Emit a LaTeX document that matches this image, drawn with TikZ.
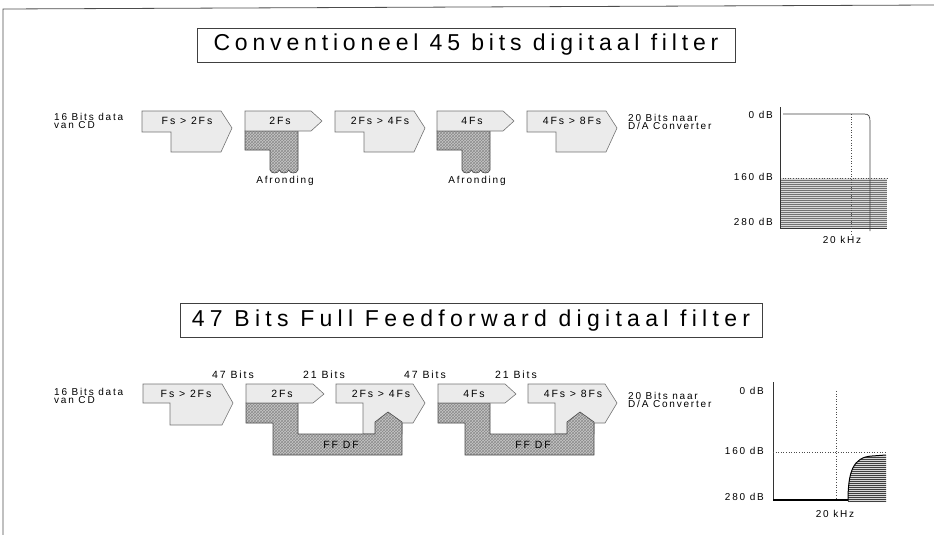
\documentclass[tikz,border=0pt]{standalone}
\usepackage{fontspec}
\setmainfont{Liberation Sans}
\newfontfamily\lblfont[LetterSpace=18]{Liberation Sans}
\newfontfamily\ttlfont[LetterSpace=21]{Liberation Sans}
\newfontfamily\ttlfontb[LetterSpace=23]{Liberation Sans}
\usetikzlibrary{patterns,positioning}

\begin{document}
\begin{tikzpicture}[x=1pt,y=-1pt,
    lbl/.style={font=\lblfont\fontsize{10}{8.5}\selectfont, inner sep=0pt, align=left},
    blk/.style={font=\lblfont\fontsize{10.5}{10}\selectfont, inner sep=0pt},
    ttl/.style={draw=black!75, line width=0.7pt, inner sep=0pt, minimum height=34pt},
    light/.style={draw=black!55, fill=black!8, line width=0.6pt},
    rough/.style={draw=black!70, line width=0.6pt, preaction={fill=black!22},
      pattern=crosshatch, pattern color=black!45},
    ax/.style={draw=black!80, line width=0.6pt},
    dotline/.style={black!70, dotted, line width=0.6pt}]
  \useasboundingbox (0,0) rectangle (934,535);
  % page edge
  \draw[black!70, line width=0.8pt] (3,535) -- (3,9) -- (934,5);

  % titles
  \node[ttl, minimum width=538pt, font=\ttlfont\fontsize{23}{26}\selectfont]
    (ttl_conv) at (466,45) {Conventioneel 45 bits digitaal filter};
  \node[ttl, minimum width=582pt, font=\ttlfontb\fontsize{23}{26}\selectfont]
    (ttl_ffw) at (471,320.5) {47 Bits Full Feedforward digitaal filter};

  % ---- conventional chain ----
  \node[lbl, anchor=west] (src_conv) at (54,121) {16 Bits data\\van CD};
  \node[lbl, anchor=west] (dst_conv) at (628,122) {20 Bits naar\\D/A Converter};
  \foreach \x/\t [count=\i] in {142/Fs > 2Fs, 335/2Fs > 4Fs, 527/4Fs > 8Fs} {
    \draw[light] (\x,111) -- ++(79,0) -- ++(11,17) -- ++(-11,24) -- ++(-50,0)
      -- ++(0,-20) -- ++(-29,0) -- cycle;
    \node[blk] (os_conv\i) at (\x+45,121) {\t};
  }
  \foreach \x/\t [count=\i] in {245/2Fs, 437/4Fs} {
    \draw[rough] (\x,131) -- ++(53,0) -- ++(0,39)
      .. controls (\x+52,174) and (\x+44.7,174) .. (\x+43.7,170)
      .. controls (\x+42.7,174) and (\x+35.3,174) .. (\x+34.3,170)
      .. controls (\x+33.3,174) and (\x+26,174) .. (\x+25,170)
      -- (\x+25,150) -- (\x,150) -- cycle;
    \draw[light] (\x,111) -- ++(66,0) -- ++(11,10) -- ++(-11,10) -- ++(-66,0) -- cycle;
    \node[blk] (rate_conv\i) at (\x+35,121) {\t};
    \node[lbl] (afr\i) at (\x+40,181) {Afronding};
  }

  % ---- feedforward chain ----
  \node[lbl, anchor=west] (src_ffw) at (54,396) {16 Bits data\\van CD};
  \node[lbl, anchor=west] (dst_ffw) at (628,400) {20 Bits naar\\D/A Converter};
  \draw[light] (143,384) -- ++(79,0) -- ++(11,19) -- ++(-11,22) -- ++(-52,0)
    -- ++(0,-22) -- ++(-27,0) -- cycle;
  \node[blk] (os_ffw0) at (186,394) {Fs > 2Fs};
  \foreach \x/\u/\v [count=\i] in {246/2Fs/2Fs > 4Fs, 438/4Fs/4Fs > 8Fs} {
    \draw[light] (\x+90,384) -- ++(77,0) -- ++(12,19) -- ++(-12,20) -- ++(-11,0)
      -- ++(0,11) -- ++(-39,0) -- ++(0,-31) -- ++(-27,0) -- cycle;
    \draw[rough] (\x,403) -- ++(52,0) -- ++(0,31) -- ++(77,0) -- ++(0,-12)
      -- ++(13,-10) -- ++(14,10) -- ++(0,33) -- ++(-129,0) -- ++(0,-32)
      -- ++(-27,0) -- cycle;
    \draw[light] (\x,384) -- ++(67,0) -- ++(11,10) -- ++(-11,9) -- ++(-67,0) -- cycle;
    \node[blk] (rate_ffw\i) at (\x+36,394) {\u};
    \node[blk] (os_ffw\i) at (\x+135,394) {\v};
    \node[blk] (ffdf\i) at (\x+95,445) {FF DF};
    \node[blk] (wide\i) at (\x-13,375) {47 Bits};
    \node[blk] (narrow\i) at (\x+78,375) {21 Bits};
  }

  % ---- response, conventional ----
  \fill[black!15] (780,178) rectangle (887,228);
  \foreach \y in {180,182,...,228}
    \draw[black!55, line width=0.4pt] (780,\y) -- (887,\y);
  \draw[dotline] (780,178) -- (887,178);
  \draw[ax] (780,107) -- (780,228) -- (887,228);
  \draw[dotline] (851,114) -- (851,234);
  \draw[black!75, line width=0.7pt] (783,114) -- (864,114)
    .. controls (869,114) and (870,116) .. (870,122) -- (870,231);
  \node[lbl, anchor=east] (db0_conv) at (773,115) {0 dB};
  \node[lbl, anchor=east] (db160_conv) at (773,177) {160 dB};
  \node[lbl, anchor=east] (db280_conv) at (773,222) {280 dB};
  \node[lbl] (khz_conv) at (842,240) {20 kHz};

  % ---- response, feedforward ----
  \begin{scope}
    \clip (848,502) .. controls (848,472) and (853,457) .. (872,456) -- (886,455)
      -- (886,502) -- cycle;
    \fill[black!15] (840,450) rectangle (890,505);
    \foreach \y in {457,459,...,501}
      \draw[black!75, line width=0.45pt] (840,\y) -- (890,\y);
  \end{scope}
  \draw[black, line width=1pt] (848,501) .. controls (848,472) and (853,457) .. (872,456)
    -- (886,455);
  \draw[ax] (773,382) -- (773,500);
  \draw[dotline] (836,391) -- (836,500);
  \draw[dotline] (773,452) -- (886,452);
  \draw[black, line width=2.4pt] (773,500) -- (848,500);
  \node[lbl, anchor=east] (db0_ffw) at (764,391) {0 dB};
  \node[lbl, anchor=east] (db160_ffw) at (764,451) {160 dB};
  \node[lbl, anchor=east] (db280_ffw) at (764,497) {280 dB};
  \node[lbl] (khz_ffw) at (835,514) {20 kHz};
\end{tikzpicture}
\end{document}
